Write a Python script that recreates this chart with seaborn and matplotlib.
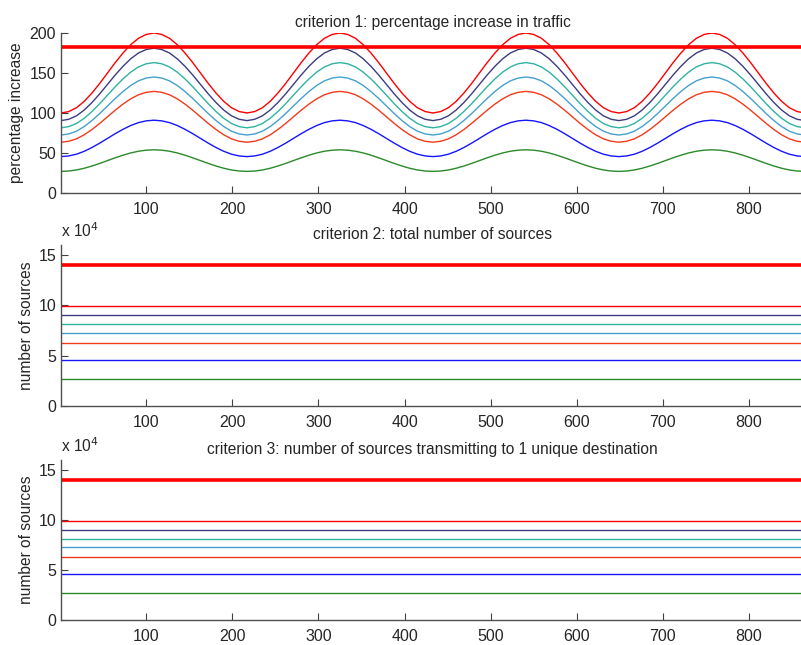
import numpy as np
import pandas as pd
import matplotlib
matplotlib.use("Agg")
import matplotlib.pyplot as plt
import seaborn as sns

# ---- data ----
# normalised daily traffic profile (fraction of peak), one period of 216 samples, sampled every 9
period_profile = [0.500, 0.509, 0.533, 0.573, 0.625, 0.685, 0.750, 0.815, 0.875,
                  0.927, 0.967, 0.991, 1.000, 0.991, 0.967, 0.927, 0.875, 0.815,
                  0.750, 0.685, 0.625, 0.573, 0.533, 0.509]
n_periods = 4
period_len = 216
x_start = 1

series_names = ["s1", "s2", "s3", "s4", "s5", "s6", "s7"]
series_colors = ["#ff0000", "#3c3c80", "#2fb3a0", "#45a0cf", "#f23a1a", "#1515ff", "#2a8a2a"]
peak_increase = [200, 181, 163, 145, 127, 91, 54]       # criterion 1 peaks (%)
threshold_increase = 182                                 # thick red line, criterion 1
total_sources = [9.9e4, 9.04e4, 8.14e4, 7.28e4, 6.29e4, 4.57e4, 2.68e4]
unique_dest_sources = [9.9e4, 9.04e4, 8.14e4, 7.28e4, 6.29e4, 4.57e4, 2.68e4]
threshold_sources = 14e4

titles = ["criterion 1: percentage increase in traffic",
          "criterion 2: total number of sources",
          "criterion 3: number of sources transmitting to 1 unique destination"]
ylabels = ["percentage increase", "number of sources", "number of sources"]
xticks = [100, 200, 300, 400, 500, 600, 700, 800]

# ---- build frames ----
prof = np.array(period_profile * n_periods + [period_profile[0]])
step = period_len / len(period_profile)
xs = x_start + np.arange(len(prof)) * step
x_end = x_start + n_periods * period_len - 1

rows = []
for name, pk in zip(series_names, peak_increase):
    for x, p in zip(xs, prof):
        rows.append((name, x, pk * p))
df1 = pd.DataFrame(rows, columns=["series", "x", "y"])

def flat_frame(values):
    r = []
    for name, v in zip(series_names, values):
        r.append((name, x_start, v))
        r.append((name, x_end, v))
    return pd.DataFrame(r, columns=["series", "x", "y"])

df2 = flat_frame(total_sources)
df3 = flat_frame(unique_dest_sources)
palette = dict(zip(series_names, series_colors))

# ---- plot ----
sns.set_style("white")
plt.rcParams["font.family"] = ["Liberation Sans", "DejaVu Sans"]
FS = 11.2

fig = plt.figure(figsize=(8.01, 6.45), dpi=100)
W, H = 801, 645
def ax_at(l, t, r, b):
    return fig.add_axes([l / W, 1 - b / H, (r - l) / W, (b - t) / H])

axes = [ax_at(61, 33, 804, 193), ax_at(61, 245, 804, 406), ax_at(61, 460, 804, 620)]

for i, (ax, df) in enumerate(zip(axes, [df1, df2, df3])):
    sns.lineplot(data=df, x="x", y="y", hue="series", palette=palette,
                 hue_order=series_names, ax=ax, legend=False, linewidth=1.0,
                 estimator=None, sort=False)
    thr = threshold_increase if i == 0 else threshold_sources
    sns.lineplot(x=[x_start, x_end], y=[thr, thr], color="#ff0000", linewidth=2.6, ax=ax)
    ax.set_xlim(x_start, x_end)
    ax.set_xticks(xticks)
    ax.set_xlabel("")
    ax.set_ylabel(ylabels[i], fontsize=FS)
    ax.set_title(titles[i], fontsize=FS, pad=4)
    for s in ["top", "right"]:
        ax.spines[s].set_visible(False)
    for s in ["left", "bottom"]:
        ax.spines[s].set_color("#505050")
        ax.spines[s].set_linewidth(1.0)
    ax.tick_params(direction="in", length=5, width=0.8, color="#404040",
                   labelsize=11.5, left=True, bottom=True)
    ax.tick_params(axis="x", pad=6.5)
    if i == 0:
        ax.set_ylim(0, 200)
        ax.set_yticks([0, 50, 100, 150, 200])
    else:
        ax.set_ylim(0, 16e4)
        ax.set_yticks([0, 5e4, 10e4, 15e4])
        ax.set_yticklabels(["0", "5", "10", "15"])
        ax.text(0.0, 1.03, r"x 10$^{4}$", transform=ax.transAxes,
                ha="left", va="bottom", fontsize=FS)

axes[0].yaxis.set_label_coords(-0.050, 0.5)
axes[1].yaxis.set_label_coords(-0.037, 0.5)
axes[2].yaxis.set_label_coords(-0.037, 0.5)

fig.savefig("out.png", dpi=100)
